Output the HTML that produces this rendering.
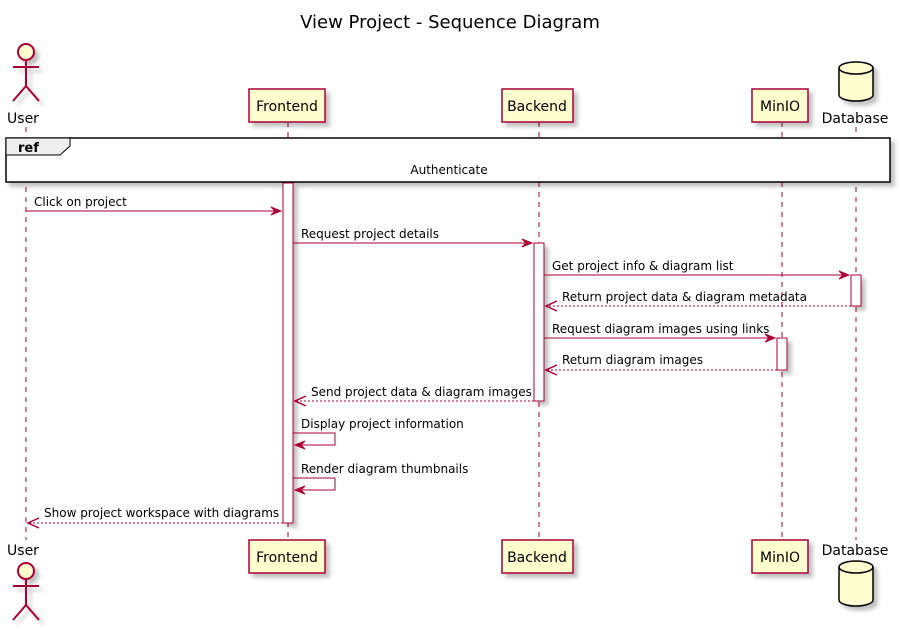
<!DOCTYPE html>
<html><head><meta charset="utf-8"><style>
html,body{margin:0;padding:0;background:#fff;}
svg{display:block;font-family:"DejaVu Sans","Liberation Sans",sans-serif;}
</style></head><body>
<svg width="900" height="630" viewBox="0 0 900 630" xmlns="http://www.w3.org/2000/svg">
<defs>
<filter id="sh" x="-20%" y="-20%" width="150%" height="150%"><feGaussianBlur in="SourceAlpha" stdDeviation="2"/><feOffset dx="4" dy="4"/><feComponentTransfer><feFuncA type="linear" slope="0.25"/></feComponentTransfer><feMerge><feMergeNode/><feMergeNode in="SourceGraphic"/></feMerge></filter>
</defs>
<text x="450" y="28" font-size="18" text-anchor="middle" fill="#000">View Project - Sequence Diagram</text>

<g stroke="#A80036" stroke-width="1" stroke-dasharray="5,5">
<line x1="26" y1="127" x2="26" y2="540"/>
<line x1="288" y1="122" x2="288" y2="540"/>
<line x1="539" y1="122" x2="539" y2="540"/>
<line x1="782" y1="122" x2="782" y2="540"/>
<line x1="856" y1="127" x2="856" y2="540"/>
</g>

<g filter="url(#sh)">
<circle cx="26" cy="52" r="8" fill="#FEFECE" stroke="#A80036" stroke-width="2"/>
<g stroke="#A80036" stroke-width="2" fill="none"><line x1="26" y1="60" x2="26" y2="86"/><line x1="13" y1="67" x2="39" y2="67"/><line x1="26" y1="86" x2="13" y2="101"/><line x1="26" y1="86" x2="39" y2="101"/></g>
<rect x="249" y="89" width="76" height="33" fill="#FEFECE" stroke="#A80036" stroke-width="1.5"/>
<rect x="502" y="89" width="71" height="33" fill="#FEFECE" stroke="#A80036" stroke-width="1.5"/>
<rect x="752" y="89" width="56" height="33" fill="#FEFECE" stroke="#A80036" stroke-width="1.5"/>
<path d="M839 68 A17 6 0 0 1 873 68 L873 95 A17 6 0 0 1 839 95 Z" fill="#FEFECE" stroke="#000" stroke-width="1.5"/>
<path d="M839 68 A17 6 0 0 0 873 68" fill="none" stroke="#000" stroke-width="1.5"/>
</g>
<g font-size="14" fill="#000">
<text x="23" y="123" text-anchor="middle">User</text>
<text x="287" y="111" text-anchor="middle">Frontend</text>
<text x="537" y="111" text-anchor="middle">Backend</text>
<text x="780" y="111" text-anchor="middle">MinIO</text>
<text x="855" y="123" text-anchor="middle">Database</text>
</g>

<g filter="url(#sh)">
<rect x="6" y="138" width="884" height="44" fill="#fff" stroke="#000" stroke-width="1.5"/>
</g>
<path d="M6 138 L70 138 L70 146 L60 155 L6 155 Z" fill="#EEEEEE" stroke="#000" stroke-width="1"/>
<text x="18" y="152" font-size="13" font-weight="bold">ref</text>
<text x="449" y="174" font-size="12" text-anchor="middle">Authenticate</text>

<g filter="url(#sh)" fill="#fff" stroke="#A80036" stroke-width="1">
<rect x="283" y="183" width="10" height="340"/>
<rect x="534" y="243" width="10" height="158"/>
<rect x="851" y="275" width="10" height="31"/>
<rect x="777" y="338" width="10" height="32"/>
</g>

<g stroke="#A80036" stroke-width="1" fill="none">
<line x1="26" y1="211" x2="281" y2="211"/>
<line x1="293" y1="243" x2="532" y2="243"/>
<line x1="544" y1="275" x2="849" y2="275"/>
<line x1="851" y1="306" x2="546" y2="306" stroke-dasharray="2,2"/>
<line x1="544" y1="338" x2="775" y2="338"/>
<line x1="777" y1="370" x2="546" y2="370" stroke-dasharray="2,2"/>
<line x1="534" y1="401" x2="295" y2="401" stroke-dasharray="2,2"/>
<polyline points="293,433 335,433 335,445 295,445"/>
<polyline points="293,478 335,478 335,490 295,490"/>
<line x1="283" y1="523" x2="28" y2="523" stroke-dasharray="2,2"/>
</g>
<g fill="#A80036" stroke="#A80036" stroke-width="1">
<polygon points="271,207 281,211 271,215 275,211"/>
<polygon points="522,239 532,243 522,247 526,243"/>
<polygon points="839,271 849,275 839,279 843,275"/>
<polygon points="765,334 775,338 765,342 769,338"/>
</g>
<g fill="none" stroke="#A80036" stroke-width="1.5">
<polyline points="557,301 546,306 557,311"/>
<polyline points="557,365 546,370 557,375"/>
<polyline points="306,396 295,401 306,406"/>
<polyline points="39,518 28,523 39,528"/>
</g>
<g fill="#A80036" stroke="#A80036" stroke-width="1">
<polygon points="305,441 295,445 305,449 301,445"/>
<polygon points="305,486 295,490 305,494 301,490"/>
</g>
<g font-size="12" fill="#000">
<text x="34" y="206">Click on project</text>
<text x="301" y="238">Request project details</text>
<text x="552" y="270">Get project info &amp; diagram list</text>
<text x="562" y="301">Return project data &amp; diagram metadata</text>
<text x="552" y="333">Request diagram images using links</text>
<text x="562" y="364">Return diagram images</text>
<text x="311" y="396">Send project data &amp; diagram images</text>
<text x="301" y="428">Display project information</text>
<text x="301" y="473">Render diagram thumbnails</text>
<text x="44" y="517">Show project workspace with diagrams</text>
</g>

<g filter="url(#sh)">
<rect x="249" y="540" width="76" height="33" fill="#FEFECE" stroke="#A80036" stroke-width="1.5"/>
<rect x="502" y="540" width="71" height="33" fill="#FEFECE" stroke="#A80036" stroke-width="1.5"/>
<rect x="752" y="540" width="56" height="33" fill="#FEFECE" stroke="#A80036" stroke-width="1.5"/>
<circle cx="26" cy="571" r="8" fill="#FEFECE" stroke="#A80036" stroke-width="2"/>
<g stroke="#A80036" stroke-width="2" fill="none"><line x1="26" y1="579" x2="26" y2="605"/><line x1="13" y1="586" x2="39" y2="586"/><line x1="26" y1="605" x2="13" y2="620"/><line x1="26" y1="605" x2="39" y2="620"/></g>
<path d="M839 567 A17 6 0 0 1 873 567 L873 600 A17 6 0 0 1 839 600 Z" fill="#FEFECE" stroke="#000" stroke-width="1.5"/>
<path d="M839 567 A17 6 0 0 0 873 567" fill="none" stroke="#000" stroke-width="1.5"/>
</g>
<g font-size="14" fill="#000">
<text x="23" y="555" text-anchor="middle">User</text>
<text x="287" y="562" text-anchor="middle">Frontend</text>
<text x="537" y="562" text-anchor="middle">Backend</text>
<text x="780" y="562" text-anchor="middle">MinIO</text>
<text x="855" y="555" text-anchor="middle">Database</text>
</g>
</svg>
</body></html>
